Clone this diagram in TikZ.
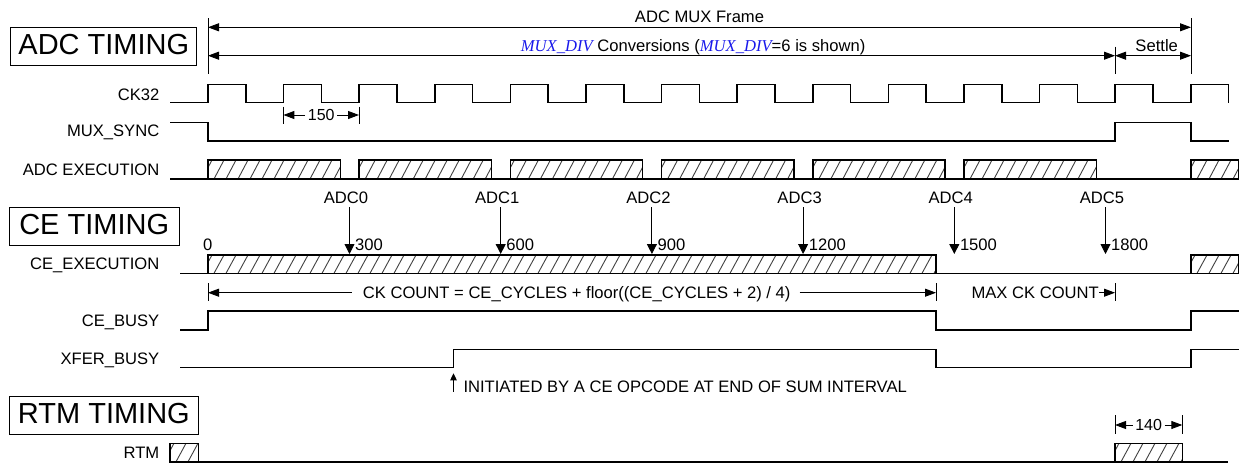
\documentclass[tikz,border=0pt]{standalone}
\usepackage{fontspec}
\setmainfont{Liberation Sans}
\newfontfamily\timesfont{Liberation Serif}
\usetikzlibrary{arrows.meta}
\definecolor{muxblue}{RGB}{25,25,235}
\tikzset{
  wave/.style={line width=1.5pt, line join=miter, line cap=butt},
  dimline/.style={line width=0.9pt},
  hatchln/.style={line width=0.9pt, black!75},
  lbl/.style={font=\fontsize{16.6}{20}\selectfont, inner sep=0pt},
  dimlbl/.style={font=\fontsize{16}{19}\selectfont, inner ysep=0pt, inner xsep=2.5pt},
  big/.style={draw, line width=1pt, font=\fontsize{29}{34}\selectfont, inner sep=0pt, text depth=4pt},
  tri/.style={-{Triangle[length=11pt,width=8pt]}},
  tritri/.style={{Triangle[length=11pt,width=8pt]}-{Triangle[length=11pt,width=8pt]}},
  adcarrow/.style={line width=0.9pt, -{Triangle[length=10pt,width=10pt]}},
  smallarrow/.style={line width=0.9pt, -{Triangle[length=7pt,width=6.5pt]}},
}
\newcommand{\hatchrect}[4]{%
  \begin{scope}
    \clip (#1,#2) rectangle (#3,#4);
    \pgfmathtruncatemacro{\hn}{(#3-#1)/12+1}
    \foreach \hi in {0,...,\hn} {
      \draw[hatchln] ({#1-6+12*\hi},#4) -- ++(10,#2-#4);
    }
  \end{scope}
  \draw[wave] (#1,#2) rectangle (#3,#4);
}
\begin{document}
\begin{tikzpicture}[x=1pt,y=-1pt]
\useasboundingbox (0,0) rectangle (1239,463);

% ---------- section boxes ----------
\node[big, minimum width=185.7pt, minimum height=38.4pt] (adct) at (103.8,46.5) {ADC TIMING};
\node[big, minimum width=170.3pt, minimum height=37.7pt] (cet) at (94.2,226.2) {CE TIMING};
\node[big, minimum width=189.7pt, minimum height=37.6pt] (rtmt) at (103.9,415.5) {RTM TIMING};

% ---------- signal labels ----------
\node[lbl, anchor=base east] (lck) at (159.5,100) {CK32};
\node[lbl, anchor=base east] (lms) at (159.5,136) {MUX\_SYNC};
\node[lbl, anchor=base east] (lae) at (159.5,175.7) {ADC EXECUTION};
\node[lbl, anchor=base east] (lce) at (159.5,269.3) {CE\_EXECUTION};
\node[lbl, anchor=base east] (lcb) at (159.5,326.7) {CE\_BUSY};
\node[lbl, anchor=base east] (lxb) at (159.5,364.3) {XFER\_BUSY};
\node[lbl, anchor=base east] (lrtm) at (159.5,458.3) {RTM};

% ---------- top frame dimensions ----------
\coordinate (fL) at (208,27.3);
\coordinate (fR) at (1191,27.3);
\coordinate (cL) at (208,55.7);
\coordinate (cR) at (1115,55.7);
\draw[dimline] (208,18) -- (208,74);
\draw[dimline] (1191,18) -- (1191,74);
\draw[dimline] (1115,46.7) -- (1115,74);
\draw[dimline, tritri] (fL) -- (fR);
\draw[dimline, tritri] (cL) -- (cR);
\draw[dimline, tritri] (cR) -- (fR |- cR);
\node[lbl, anchor=base] (tframe) at (699.5,22.7) {ADC MUX Frame};
\node[lbl, anchor=base west] (tconv) at (520.7,51.7) {{\color{muxblue}\timesfont\itshape MUX\_DIV} Conversions ({\color{muxblue}\timesfont\itshape MUX\_DIV}=6 is shown)};
\node[lbl, anchor=base] (tsettle) at (1156.7,51.7) {Settle};

% ---------- CK32 ----------
\draw[wave] (170,102.7) \foreach \k in {0,...,13} {
  -- ({208+75.6*\k},102.7) -- ({208+75.6*\k},84.3)
  -- ({245.8+75.6*\k},84.3) -- ({245.8+75.6*\k},102.7) };

% 150 dimension
\coordinate (d150a) at (283.4,115);
\coordinate (d150b) at (359,115);
\draw[dimline] (283.4,106.7) -- (283.4,124);
\draw[dimline] (359,106.7) -- (359,124);
\node[dimlbl] (n150) at (321.2,115) {150};
\draw[dimline, tri] (n150.west) -- (d150a);
\draw[dimline, tri] (n150.east) -- (d150b);

% ---------- MUX_SYNC ----------
\draw[wave] (170,122.3) -- (208,122.3) -- (208,141) -- (1115,141) -- (1115,122.3)
  -- (1191,122.3) -- (1191,141) -- (1228.5,141);

% ---------- ADC EXECUTION ----------
\draw[wave] (170,179) -- (1191,179);
\foreach \k in {0,...,5} {
  \pgfmathsetmacro{\xa}{208+151.2*\k}
  \pgfmathsetmacro{\xb}{\xa+132.3}
  \hatchrect{\xa}{160}{\xb}{179}
}
\hatchrect{1191}{160}{1238.3}{179}

% ---------- ADC conversion markers ----------
\foreach \k/\v in {0/300,1/600,2/900,3/1200,4/1500,5/1800} {
  \pgfmathsetmacro{\xx}{349.5+151.2*\k}
  \coordinate (adcA\k) at (\xx,207.3);
  \coordinate (adcB\k) at (\xx,254);
  \node[lbl, anchor=base] (adcL\k) at (\xx-3.5,203.3) {ADC\k};
  \node[lbl, anchor=base west] (adcN\k) at (\xx+5.5,250) {\v};
  \draw[adcarrow] (adcA\k) -- (adcB\k);
}
\node[lbl, anchor=base] (zero) at (207.8,250) {0};

% ---------- CE_EXECUTION ----------
\draw[wave] (180,273.3) -- (1191,273.3);
\hatchrect{208}{255}{936}{273.3}
\hatchrect{1191}{255}{1238.3}{273.3}

% CK COUNT dimension
\coordinate (ckL) at (208,292.7);
\coordinate (ckR) at (936,292.7);
\coordinate (mxR) at (1115,292.7);
\draw[dimline] (208,283.3) -- (208,301);
\draw[dimline] (936,283.3) -- (936,301);
\draw[dimline] (1115,283.3) -- (1115,301);
\node[lbl, anchor=base] (ckt) at (576.7,298) {CK COUNT = CE\_CYCLES + floor((CE\_CYCLES + 2) / 4)};
\draw[dimline, tri] (ckt.west |- ckL) ++(-11,0) -- (ckL);
\draw[dimline, tri] (ckt.east |- ckR) ++(9,0) -- (ckR);
\node[lbl, anchor=base east] (mxt) at (1099,298) {MAX CK COUNT};
\draw[dimline, tri] (mxt.east |- mxR) -- (mxR);

% ---------- CE_BUSY ----------
\draw[wave] (180,330) -- (208,330) -- (208,311) -- (936,311) -- (936,330)
  -- (1191,330) -- (1191,311) -- (1238.5,311);

% ---------- XFER_BUSY ----------
\draw[wave] (180,367.7) -- (453.5,367.7) -- (453.5,349.3) -- (936,349.3) -- (936,367.7)
  -- (1191,367.7) -- (1191,349.3) -- (1238.5,349.3);
\coordinate (initA) at (453.5,391.7);
\coordinate (initB) at (453.5,373.3);
\draw[smallarrow] (initA) -- (initB);
\node[lbl, anchor=base west] (initt) at (463.3,392.7) {INITIATED BY A CE OPCODE AT END OF SUM INTERVAL};

% ---------- RTM ----------
\draw[wave] (198.7,461.8) -- (1228.3,461.8);
\hatchrect{170}{443.3}{198.7}{461.8}
\hatchrect{1115}{443.3}{1182.3}{461.8}
\coordinate (d140a) at (1115,425);
\coordinate (d140b) at (1182.3,425);
\draw[dimline] (1115,415) -- (1115,434);
\draw[dimline] (1182.3,415) -- (1182.3,434);
\node[dimlbl] (n140) at (1148.6,425) {140};
\draw[dimline, tri] (n140.west) -- (d140a);
\draw[dimline, tri] (n140.east) -- (d140b);
\end{tikzpicture}
\end{document}
